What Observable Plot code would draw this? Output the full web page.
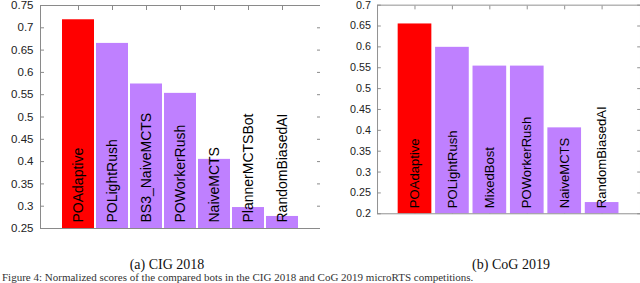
<!DOCTYPE html>
<html>
<head>
<meta charset="utf-8">
<script src="https://cdn.jsdelivr.net/npm/d3@7"></script>
<script src="https://cdn.jsdelivr.net/npm/@observablehq/plot@0.6"></script>
<style>
  html, body { margin: 0; padding: 0; background: #fff; }
  #wrap { position: relative; width: 640px; height: 283px; overflow: hidden; background: #fff; }
  #left { position: absolute; left: 0; top: 0; }
  #right { position: absolute; left: 320px; top: 0; }
  .cap { position: absolute; font-family: "Liberation Serif", "DejaVu Serif", serif; font-size: 14px; color: #111; white-space: nowrap; line-height: 1; }
</style>
</head>
<body>
<div id="wrap">
  <div id="left"></div>
  <div id="right"></div>
  <div class="cap" id="capA" style="left:167px; top:258px; transform:translateX(-50%);">(a) CIG 2018</div>
  <div class="cap" id="capB" style="left:511px; top:258px; transform:translateX(-50%);">(b) CoG 2019</div>
  <div class="cap" id="fig" style="left:2px; top:272px; font-size:11px; color:#333;">Figure 4: Normalized scores of the compared bots in the CIG 2018 and CoG 2019 microRTS competitions.</div>
</div>
<script>
// ---- Data ----
const cigBots = ["POAdaptive", "POLightRush", "BS3_NaiveMCTS", "POWorkerRush", "NaiveMCTS", "PlannerMCTSBot", "RandomBiasedAI"];
const cigScores = [0.718, 0.665, 0.574, 0.553, 0.405, 0.297, 0.277];
const cigTicks = [0.25, 0.3, 0.35, 0.4, 0.45, 0.5, 0.55, 0.6, 0.65, 0.7, 0.75];

const cogBots = ["POAdaptive", "POLightRush", "MixedBost", "POWorkerRush", "NaiveMCTS", "RandomBiasedAI"];
const cogScores = [0.655, 0.599, 0.554, 0.554, 0.406, 0.227];
const cogTicks = [0.2, 0.25, 0.3, 0.35, 0.4, 0.45, 0.5, 0.55, 0.6, 0.65, 0.7];

const highlightBot = "POAdaptive";
const RED = "#ff0000";
const PURPLE = "#bf80ff";
const FRAME = "#8a8a8a";

const fmt = d => String(+d.toFixed(2));

function chart(bots, scores, ticks, opts) {
  const data = bots.map((b, i) => ({bot: b, score: scores[i]}));
  const y0 = ticks[0];
  return Plot.plot({
    width: opts.width,
    height: 240,
    marginTop: 5,
    marginBottom: 12,
    marginLeft: opts.marginLeft,
    marginRight: 0,
    style: {fontFamily: "'Liberation Sans', Arial, sans-serif", fontSize: "11.5px", color: "#222", background: "transparent"},
    x: {type: "band", domain: bots, paddingInner: opts.pi, paddingOuter: opts.po, align: 0.5},
    y: {domain: [ticks[0], ticks[ticks.length - 1]]},
    marks: [
      Plot.axisY({ticks, tickSize: 0, tickPadding: 7, tickFormat: fmt, label: null, fill: "#222"}),
      Plot.axisY({ticks, anchor: "left", tickSize: 4, dx: 4, tickFormat: () => "", label: null, stroke: FRAME}),
      Plot.axisY({ticks, anchor: "right", tickSize: 4, dx: -4, tickFormat: () => "", label: null, stroke: FRAME}),
      Plot.axisX({anchor: "top", tickSize: 4, dy: 4, tickFormat: () => "", label: null, stroke: FRAME}),
      Plot.axisX({anchor: "bottom", tickSize: 4, dy: -4, tickFormat: () => "", label: null, stroke: FRAME}),
      Plot.rectY(data, {x: "bot", y1: y0, y2: "score", fill: d => d.bot === highlightBot ? RED : PURPLE}),
      Plot.text(data, {x: "bot", y: y0, text: "bot", rotate: -90, textAnchor: "start", dy: -6,
        fontSize: 14, fill: "#000", fontFamily: "'Liberation Sans', Arial, sans-serif"}),
      Plot.frame({stroke: FRAME})
    ]
  });
}

document.getElementById("left").append(
  chart(cigBots, cigScores, cigTicks, {width: 320, marginLeft: 40, pi: 0.071, po: 0.536})
);
document.getElementById("right").append(
  chart(cogBots, cogScores, cogTicks, {width: 342, marginLeft: 61, pi: 0.092, po: 0.546})
);
</script>
</body>
</html>
